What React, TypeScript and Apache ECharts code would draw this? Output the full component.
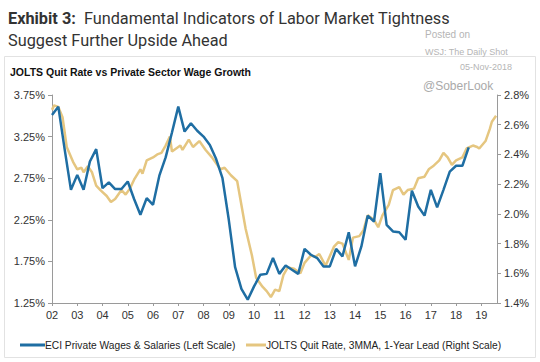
import React, { useEffect, useRef } from "react";
import * as echarts from "echarts";

// ECI Private Wages & Salaries, y/y %, quarterly from 2002-Q1
const eciStart = 2002;
const eciValues = [
  3.51, 3.61, 3.1, 2.61, 2.79, 2.61, 2.95, 3.1, 2.63, 2.7, 2.62, 2.62, 2.71, 2.5, 2.31, 2.51,
  2.43, 2.78, 3.0, 3.3, 3.61, 3.31, 3.41, 3.32, 3.25, 3.15, 2.98, 2.75, 2.25, 1.68, 1.42, 1.29,
  1.45, 1.59, 1.6, 1.79, 1.6, 1.7, 1.65, 1.6, 1.9, 1.83, 1.79, 1.69, 1.69, 1.9, 1.81, 2.1,
  1.69, 1.93, 2.3, 2.23, 2.81, 2.19, 2.11, 2.1, 2.01, 2.6, 2.41, 2.3, 2.61, 2.4, 2.61, 2.83,
  2.9, 2.9, 3.12,
];

// JOLTS quit rate, 3MMA, shifted 1 year forward
const quitMonths = [
  "2002-01", "2002-02", "2002-04", "2002-06", "2002-08", "2002-11", "2003-01", "2003-03", "2003-04",
  "2003-06", "2003-08", "2003-10", "2003-12", "2004-03", "2004-05", "2004-07", "2004-10", "2004-12",
  "2005-02", "2005-04", "2005-07", "2005-08", "2005-10", "2006-01", "2006-03", "2006-05", "2006-07",
  "2006-09", "2006-10", "2007-02", "2007-03", "2007-06", "2007-08", "2007-11", "2008-02", "2008-05",
  "2008-07", "2008-09", "2008-11", "2009-02", "2009-05", "2009-07", "2009-09", "2009-12", "2010-02",
  "2010-05", "2010-07", "2010-09", "2010-11", "2011-01", "2011-03", "2011-05", "2011-08", "2011-11",
  "2012-01", "2012-04", "2012-06", "2012-08", "2012-11", "2013-03", "2013-05", "2013-07", "2013-10",
  "2013-12", "2014-03", "2014-05", "2014-07", "2014-10", "2014-12", "2015-02", "2015-05", "2015-07",
  "2015-10", "2015-12", "2016-02", "2016-05", "2016-07", "2016-10", "2016-12", "2017-02", "2017-05",
  "2017-07", "2017-09", "2017-11", "2018-01", "2018-04", "2018-06", "2018-09", "2018-11", "2018-12",
  "2019-03", "2019-05", "2019-06", "2019-08",
];
const quitValues = [
  2.7, 2.73, 2.72, 2.65, 2.45, 2.35, 2.3, 2.31, 2.28,
  2.32, 2.28, 2.19, 2.16, 2.12, 2.08, 2.1, 2.16, 2.13,
  2.17, 2.23, 2.3, 2.27, 2.36, 2.38, 2.4, 2.41, 2.46,
  2.52, 2.42, 2.46, 2.43, 2.5, 2.45, 2.49, 2.43, 2.38,
  2.34, 2.3, 2.31, 2.26, 2.22, 2.06, 1.9, 1.72, 1.57,
  1.51, 1.48, 1.44, 1.49, 1.48, 1.59, 1.64, 1.63, 1.6,
  1.67, 1.72, 1.71, 1.73, 1.65, 1.78, 1.81, 1.8, 1.69,
  1.84, 1.85, 1.89, 1.99, 1.96, 1.91, 1.99, 2.06, 2.16,
  2.18, 2.13, 2.16, 2.17, 2.24, 2.25, 2.3, 2.32, 2.36,
  2.41, 2.38, 2.33, 2.36, 2.38, 2.44, 2.46, 2.45, 2.44,
  2.49, 2.57, 2.62, 2.66,
];

const leftMin = 1.25;
const leftMax = 3.75;
const leftStep = 0.5;
const rightMin = 1.4;
const rightMax = 2.8;
const rightStep = 0.2;
const xMin = 2002;
const xMax = 2019.62;

const eciName = "ECI Private Wages & Salaries (Left Scale)";
const quitName = "JOLTS Quit Rate, 3MMA, 1-Year Lead (Right Scale)";

const FONT = "'Liberation Sans', Arial, sans-serif";
const BLUE = "#1f6ea3";
const GOLD = "#e5c680";

export default function App() {
  const ref = useRef<HTMLDivElement>(null);
  useEffect(() => {
    if (!ref.current) return;
    const chart = echarts.init(ref.current, undefined, { renderer: "svg" });
    const eciData = eciValues.map((v, i) => [eciStart + i / 4, v - leftMin]);
    const quitData = quitMonths.map((m, i) => {
      const [y, mo] = m.split("-").map(Number);
      return [y + (mo - 1) / 12, quitValues[i]];
    });
    const axisColor = "#9a9a9a";
    const legendY = 345;
    chart.setOption({
      animation: false,
      backgroundColor: "#ffffff",
      grid: { left: 52, right: 43, top: 95, bottom: 59, containLabel: false },
      graphic: [
        {
          type: "rect",
          shape: { x: 4.5, y: 56.5, width: 531, height: 301 },
          style: { fill: "none", stroke: "#e2e2e2", lineWidth: 1 },
          silent: true,
        },
        {
          type: "text",
          left: 8,
          top: 7,
          style: {
            text: "{b|Exhibit 3:}  Fundamental Indicators of Labor Market Tightness\nSuggest Further Upside Ahead",
            font: "16.3px Roboto",
            fill: "#333333",
            lineHeight: 22,
            rich: {
              b: { fontWeight: "bold", fontSize: 16.3, fontFamily: "Roboto", fill: "#333333" },
            },
          },
        },
        {
          type: "text",
          left: 10,
          top: 66,
          style: {
            text: "JOLTS Quit Rate vs Private Sector Wage Growth",
            font: "bold 10.5px " + FONT,
            fill: "#111111",
          },
        },
        {
          type: "text",
          left: 425,
          top: 29,
          style: { text: "Posted on", font: "10px " + FONT, fill: "#b5b5b5" },
        },
        {
          type: "text",
          left: 425,
          top: 47,
          style: { text: "WSJ: The Daily Shot", font: "9px " + FONT, fill: "#b5b5b5" },
        },
        {
          type: "text",
          left: 460,
          top: 62,
          style: { text: "05-Nov-2018", font: "9px " + FONT, fill: "#b5b5b5" },
        },
        {
          type: "text",
          left: 423,
          top: 80,
          style: { text: "@SoberLook", font: "12px " + FONT, fill: "#aaaaaa" },
        },
        // legend
        {
          type: "line",
          shape: { x1: 20, y1: legendY, x2: 45, y2: legendY },
          style: { stroke: BLUE, lineWidth: 3 },
        },
        {
          type: "text",
          x: 45,
          y: legendY,
          scaleX: 0.93,
          style: {
            text: eciName,
            font: "11px " + FONT,
            fill: "#222222",
            verticalAlign: "middle",
            align: "left",
          },
        },
        {
          type: "line",
          shape: { x1: 246, y1: legendY, x2: 266, y2: legendY },
          style: { stroke: GOLD, lineWidth: 3 },
        },
        {
          type: "text",
          x: 266,
          y: legendY,
          scaleX: 0.93,
          style: {
            text: quitName,
            font: "11px " + FONT,
            fill: "#222222",
            verticalAlign: "middle",
            align: "left",
          },
        },
      ],
      xAxis: {
        type: "value",
        min: xMin,
        max: xMax,
        interval: 1,
        axisLine: { show: true, lineStyle: { color: axisColor } },
        axisTick: { show: true, length: 3, lineStyle: { color: axisColor } },
        splitLine: { show: false },
        axisLabel: {
          fontSize: 11,
          fontFamily: FONT,
          color: "#333333",
          margin: 6,
          showMaxLabel: false,
          formatter: (v: number) =>
            Math.abs(v - Math.round(v)) < 1e-6 ? String(Math.round(v) % 100).padStart(2, "0") : "",
        },
      },
      yAxis: [
        {
          type: "value",
          position: "left",
          min: 0,
          max: leftMax - leftMin,
          interval: leftStep,
          axisLine: { show: true, lineStyle: { color: axisColor } },
          axisTick: { show: true, length: 4, lineStyle: { color: axisColor } },
          splitLine: { show: false },
          axisLabel: {
            fontSize: 11,
            fontFamily: FONT,
            color: "#333333",
            margin: 7,
            formatter: (v: number) => (v + leftMin).toFixed(2) + "%",
          },
        },
        {
          type: "value",
          position: "right",
          min: rightMin,
          max: rightMax,
          interval: rightStep,
          axisLine: { show: true, lineStyle: { color: axisColor } },
          axisTick: { show: true, length: 4, lineStyle: { color: axisColor } },
          splitLine: { show: false },
          axisLabel: {
            fontSize: 11,
            fontFamily: FONT,
            color: "#333333",
            margin: 7,
            formatter: (v: number) => v.toFixed(1) + "%",
          },
        },
      ],
      series: [
        {
          name: quitName,
          type: "line",
          yAxisIndex: 1,
          data: quitData,
          showSymbol: false,
          lineStyle: { color: GOLD, width: 2.5 },
          itemStyle: { color: GOLD },
        },
        {
          name: eciName,
          type: "line",
          yAxisIndex: 0,
          data: eciData,
          showSymbol: false,
          lineStyle: { color: BLUE, width: 2.5 },
          itemStyle: { color: BLUE },
        },
      ],
    });
    return () => chart.dispose();
  }, []);
  return <div ref={ref} style={{ width: 540, height: 362, position: "absolute", left: 0, top: 0 }} />;
}
